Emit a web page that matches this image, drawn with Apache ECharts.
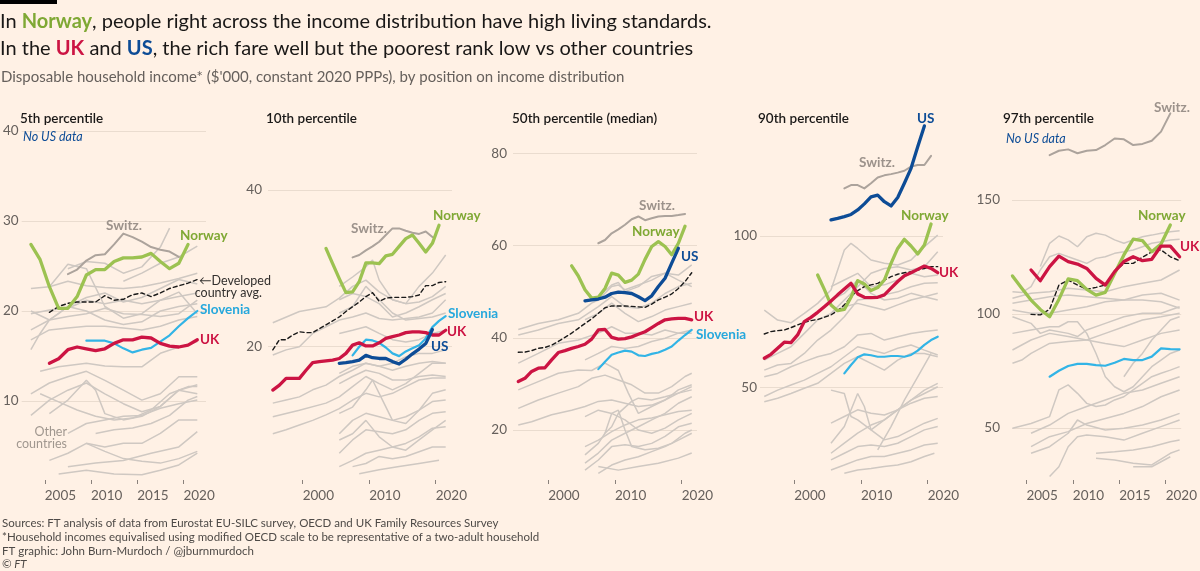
<!DOCTYPE html>
<html><head><meta charset="utf-8">
<script src="https://cdn.jsdelivr.net/npm/echarts@6/dist/echarts.min.js"></script>
<style>html,body{margin:0;padding:0;background:#fff1e5}#c{width:1200px;height:571px}</style>
</head><body><div id="c"></div>
<script>
// ================= DATA =================
// x values are years; annual series start at the given year
// ---- 5th percentile ----
const p05XTicks = [2005, 2010, 2015, 2020];
const p05YTicks = [10, 20, 30, 40];
const p05NorwayStart = 2003.5;
const p05Norway = [27.4,25.7,22.7,20.3,20.3,21.6,24.0,24.6,24.6,25.5,25.9,25.9,26.0,26.4,25.5,24.7,25.3,27.4];
const p05UKStart = 2005.5;
const p05UK = [14.2,14.7,15.7,16.0,15.8,15.6,15.8,16.4,16.8,16.8,17.1,17.0,16.4,16.1,16.0,16.2,16.8];
const p05SloveniaStart = 2009.5;
const p05Slovenia = [16.7,16.7,16.7,16.4,15.85,15.4,15.7,15.9,16.6,17.3,18.3,19.2,20.0];
const p05SwitzStart = 2007.5;
const p05Switz = [24.1,24.6,25.6,26.2,26.3,27.4,28.6,28.2,27.7,27.1,26.8,26.6,26.0];
const p05AvgStart = 2005.5;
const p05Avg = [19.85,20.5,20.85,21.0,21.0,21.0,21.7,21.2,21.3,21.8,22.0,21.6,22.0,22.5,22.8,23.1,23.5];
const p05Others = [
 [[2003.5,22.5],[2005.5,22.7],[2007.5,23.3],[2009.5,22.8],[2011.5,22.6],[2013.5,22.5],[2015.5,22.7],[2017.5,23.1],[2019.5,23.6],[2021.5,24.2]],
 [[2003.5,20.0],[2005.5,19.0],[2007.5,20.5],[2009.5,21.5],[2011.5,22.0],[2013.5,21.0],[2015.5,21.5],[2017.5,22.5],[2019.5,23.5],[2021.5,23.0]],
 [[2005.5,22.7],[2007.5,25.2],[2009.5,24.7],[2011.5,20.5],[2013.5,19.2],[2015.5,19.7],[2017.5,21.2],[2019.5,22.1],[2021.5,19.7]],
 [[2007.5,24.7],[2009.5,25.5],[2011.5,25.3],[2013.5,24.2],[2015.5,24.9],[2017.5,27.1],[2018.5,29.2]],
 [[2003.5,19.7],[2005.5,20.1],[2007.5,20.3],[2009.5,21.2],[2011.5,20.8],[2013.5,21.2],[2015.5,20.8],[2017.5,21.2],[2019.5,21.6],[2021.5,22.0]],
 [[2003.5,17.9],[2005.5,19.0],[2007.5,19.4],[2009.5,19.7],[2011.5,20.3],[2013.5,19.7],[2015.5,19.6],[2017.5,19.4],[2019.5,19.7],[2021.5,21.2]],
 [[2003.5,16.8],[2005.5,17.9],[2007.5,18.1],[2009.5,18.3],[2011.5,18.3],[2013.5,18.1],[2015.5,17.9],[2017.5,18.3],[2019.5,19.0],[2021.5,19.4]],
 [[2003.5,15.7],[2004.5,17.5],[2005.5,19.0],[2006.5,19.7],[2007.5,20.5],[2009.5,20.0],[2011.5,19.0],[2013.5,18.5],[2015.5,18.8],[2017.5,20.0],[2019.5,20.5],[2021.5,20.8]],
 [[2004.5,13.3],[2006.5,13.8],[2009.5,14.2],[2011.5,13.9],[2013.5,13.8],[2015.5,13.8],[2017.5,15.3],[2019.5,16.0],[2021.5,16.6]],
 [[2003.5,10.8],[2005.5,12.0],[2007.5,12.7],[2009.5,13.3],[2011.5,12.3],[2013.5,11.2],[2015.5,10.1],[2017.5,10.8],[2019.5,12.7],[2021.5,12.7]],
 [[2003.5,8.4],[2005.5,10.1],[2007.5,11.2],[2009.5,12.0],[2011.5,10.8],[2013.5,9.7],[2015.5,8.8],[2017.5,9.4],[2019.5,11.2],[2021.5,11.8]],
 [[2004.5,10.8],[2006.5,9.9],[2008.5,9.0],[2010.5,8.3],[2012.5,7.9],[2014.5,8.1],[2016.5,9.0],[2018.5,10.8],[2020.5,11.6],[2021.5,11.6]],
 [[2005.5,8.6],[2007.5,10.1],[2009.5,12.3],[2010.5,11.2],[2011.5,8.6],[2013.5,7.9],[2015.5,8.3],[2017.5,9.4],[2019.5,11.2],[2021.5,10.8]],
 [[2007.5,6.4],[2009.5,7.5],[2011.5,7.9],[2013.5,8.3],[2015.5,8.4],[2017.5,9.2],[2019.5,9.7],[2021.5,10.1]],
 [[2005.5,3.4],[2007.5,4.2],[2009.5,5.3],[2011.5,4.9],[2013.5,5.3],[2015.5,5.3],[2017.5,6.4],[2019.5,7.9],[2021.5,7.9]],
 [[2007.5,2.7],[2010.5,3.1],[2013.5,3.4],[2016.5,4.2],[2019.5,4.9],[2021.5,6.6]],
 [[2009.5,5.3],[2011.5,4.4],[2013.5,3.6],[2015.5,3.3],[2017.5,3.1],[2019.5,3.6],[2021.5,4.4]],
 [[2006.5,1.9],[2009.5,2.3],[2012.5,1.9],[2015.5,1.8],[2017.5,2.3],[2019.5,2.9],[2021.5,4.2]],
 [[2010.5,6.4],[2012.5,6.8],[2014.5,7.0],[2016.5,7.5],[2018.5,8.4],[2020.5,10.1],[2021.5,10.5]],
 [[2013.5,23.3],[2015.5,24.2],[2017.5,25.3],[2019.5,26.0],[2021.5,27.2]]
];
// ---- 10th percentile ----
const p10XTicks = [2000, 2010, 2020];
const p10YTicks = [20, 40];
const p10UKStart = 1995.5;
const p10UK = [14.47,15.1,15.96,15.96,15.96,17.0,17.96,18.09,18.2,18.3,18.5,19.15,20.2,20.5,20.1,20.1,20.5,21.06,21.28,21.5,21.8,21.9,21.9,21.8,21.5,21.5,22.1];
const p10NorwayStart = 2003.5;
const p10Norway = [32.55,30.6,28.7,26.9,27.0,28.3,30.7,30.7,30.6,31.6,31.8,32.8,33.8,34.25,33.2,32.1,33.2,35.5];
const p10SwitzStart = 2007.5;
const p10Switz = [31.4,31.7,32.3,32.8,33.4,34.25,35.1,35.1,34.8,34.55,34.4,34.7,34.0];
const p10AvgStart = 1995.5;
const p10Avg = [19.6,20.9,20.9,21.5,21.9,21.8,21.8,22.3,22.8,23.3,23.8,24.5,25.1,25.7,26.4,26.9,25.8,26.2,26.3,26.3,26.3,26.4,26.6,27.8,27.8,28.2,28.3];
const p10USStart = 2005.5;
const p10US = [17.87,17.96,18.1,18.3,18.9,18.6,18.5,18.5,18.1,17.8,18.4,19.1,19.7,20.4,22.2];
const p10SloveniaStart = 2007.5;
const p10Slovenia = [18.9,20.0,20.9,20.8,20.5,19.9,19.15,18.8,19.4,19.8,20.2,21.06,22.5,23.3,23.9];
const p10Others = [
 [[1995.5,23.06],[1999.5,24.5],[2003.5,25.1],[2005.5,26.2],[2007.5,27.7],[2009.5,28.5],[2011.5,27.0],[2013.5,26.0],[2015.5,25.5],[2017.5,25.7],[2019.5,26.4],[2021.5,27.7]],
 [[1995.5,18.94],[1997.5,19.6],[1999.5,20.0],[2001.5,21.7],[2003.5,22.55],[2005.5,23.4],[2007.5,23.8],[2009.5,24.3],[2011.5,23.6],[2013.5,23.4],[2015.5,23.6],[2017.5,23.8],[2019.5,24.3],[2021.5,26.0]],
 [[1995.5,12.8],[1997.5,13.2],[1999.5,13.6],[2001.5,14.5],[2003.5,15.1],[2005.5,16.2],[2007.5,17.0],[2009.5,17.9],[2011.5,17.5],[2013.5,17.9],[2015.5,18.7],[2017.5,19.15],[2019.5,19.15],[2021.5,19.6]],
 [[1995.5,8.9],[1997.5,9.4],[1999.5,10.0],[2001.5,10.6],[2003.5,11.3],[2005.5,12.1],[2007.5,13.2],[2009.5,14.05],[2011.5,13.6],[2013.5,14.05],[2015.5,14.9],[2017.5,15.75],[2019.5,16.0],[2021.5,16.0]],
 [[1995.5,11.06],[1999.5,11.9],[2003.5,12.8],[2005.5,13.6],[2007.5,14.9],[2009.5,16.2],[2011.5,15.3],[2013.5,14.5],[2015.5,15.3],[2017.5,16.6],[2019.5,17.9],[2021.5,17.9]],
 [[2005.5,27.7],[2007.5,28.9],[2009.5,30.2],[2010.5,31.06],[2011.5,28.5],[2013.5,26.0],[2015.5,25.5],[2017.5,27.7],[2019.5,29.4],[2021.5,31.7]],
 [[2005.5,26.0],[2007.5,26.8],[2009.5,26.4],[2011.5,25.5],[2013.5,23.8],[2015.5,24.3],[2017.5,25.1],[2019.5,26.0],[2021.5,26.8]],
 [[2005.5,24.3],[2007.5,25.1],[2009.5,27.7],[2011.5,26.0],[2013.5,24.3],[2015.5,23.4],[2017.5,23.6],[2019.5,23.8],[2021.5,24.3]],
 [[2005.5,21.7],[2007.5,22.1],[2009.5,22.55],[2011.5,21.7],[2013.5,20.9],[2015.5,20.6],[2017.5,20.9],[2019.5,21.7],[2021.5,22.1]],
 [[2005.5,16.6],[2007.5,17.5],[2009.5,17.9],[2011.5,17.5],[2013.5,17.0],[2015.5,17.5],[2017.5,17.9],[2019.5,18.1],[2021.5,17.9]],
 [[2005.5,15.3],[2007.5,16.2],[2009.5,17.0],[2011.5,16.6],[2013.5,15.75],[2015.5,15.75],[2017.5,16.2],[2019.5,16.4],[2021.5,16.2]],
 [[2005.5,11.5],[2007.5,12.3],[2009.5,14.5],[2010.5,15.75],[2011.5,14.05],[2013.5,10.6],[2015.5,10.2],[2017.5,11.9],[2019.5,14.05],[2021.5,14.5]],
 [[2005.5,8.9],[2007.5,10.6],[2009.5,11.5],[2011.5,11.06],[2013.5,10.6],[2015.5,11.06],[2017.5,11.9],[2019.5,13.0],[2021.5,13.2]],
 [[2005.5,6.4],[2007.5,8.1],[2009.5,9.4],[2011.5,9.15],[2013.5,8.9],[2015.5,9.4],[2017.5,10.6],[2019.5,11.5],[2021.5,11.7]],
 [[2005.5,4.7],[2007.5,5.5],[2009.5,6.4],[2011.5,6.8],[2013.5,7.2],[2015.5,7.66],[2017.5,8.5],[2019.5,9.6],[2021.5,9.8]],
 [[2007.5,4.7],[2009.5,5.1],[2011.5,6.0],[2013.5,5.7],[2015.5,6.0],[2017.5,6.6],[2019.5,7.2],[2021.5,7.2]],
 [[2008.5,3.8],[2011.5,4.3],[2014.5,4.7],[2017.5,5.1],[2020.5,5.5]],
 [[2005.5,8.1],[2007.5,8.9],[2009.5,10.6],[2011.5,8.5],[2013.5,7.2],[2015.5,6.8],[2017.5,8.1],[2019.5,9.4],[2021.5,10.6]]
];
// ---- 50th percentile ----
const p50XTicks = [2000, 2010, 2020];
const p50YTicks = [20, 40, 60, 80];
const p50UKStart = 1995.5;
const p50UK = [30.5,31.2,32.7,33.4,33.5,35.2,36.8,37.2,37.7,38.1,38.6,39.7,41.7,41.8,40.1,39.7,39.8,40.2,40.75,41.3,42.2,43.1,43.9,44.1,44.2,44.2,43.9];
const p50AvgStart = 1995.5;
const p50Avg = [36.85,36.9,37.2,37.7,37.9,38.4,39.2,40.1,41.0,42.05,43.1,44.1,45.3,46.5,46.9,46.9,46.9,46.8,46.7,46.6,47.3,48.2,48.8,49.5,50.7,52.2,54.1];
const p50NorwayStart = 2003.5;
const p50Norway = [55.6,53.4,50.4,48.6,48.8,50.7,54.0,53.6,52.0,52.5,53.8,57.0,59.8,60.85,59.8,58.0,60.5,64.2];
const p50USStart = 2005.5;
const p50US = [48.0,48.2,48.4,48.8,49.6,49.9,49.8,49.6,48.9,48.05,49.1,51.1,52.9,56.2,59.4];
const p50SloveniaStart = 2007.5;
const p50Slovenia = [33.2,34.8,36.3,36.8,37.2,37.0,36.2,36.05,36.5,36.8,37.4,38.1,39.4,40.6,41.7];
const p50SwitzStart = 2007.5;
const p50Switz = [60.5,61.2,62.65,63.5,64.5,65.7,66.3,65.5,65.9,66.3,66.4,66.4,66.6,66.85];
const p50Others = [
 [[1995.5,41.8],[1998.5,43.1],[2001.5,43.9],[2004.5,45.3],[2006.5,47.5],[2007.5,48.2],[2009.5,51.1],[2010.5,51.45],[2011.5,50.4],[2013.5,51.45],[2015.5,52.5],[2017.5,54.0],[2019.5,53.6],[2021.5,55.8]],
 [[1995.5,40.6],[1998.5,41.7],[2001.5,43.1],[2004.5,43.9],[2007.5,46.75],[2009.5,48.9],[2011.5,46.75],[2013.5,46.4],[2015.5,47.5],[2017.5,49.6],[2019.5,51.1],[2021.5,51.8]],
 [[1995.5,34.5],[1998.5,36.6],[2001.5,38.8],[2004.5,39.5],[2007.5,41.0],[2009.5,42.4],[2011.5,41.0],[2013.5,41.0],[2015.5,40.6],[2017.5,41.7],[2019.5,41.0],[2021.5,41.0]],
 [[1995.5,28.7],[1998.5,30.5],[2001.5,32.3],[2004.5,33.0],[2006.5,32.9],[2008.5,34.5],[2010.5,32.9],[2012.0,28.0],[2013.5,23.6],[2015.5,25.1],[2017.5,26.5],[2019.5,28.7],[2021.5,29.8]],
 [[1995.5,24.7],[1998.5,26.5],[2001.5,28.0],[2004.5,29.4],[2006.5,31.2],[2008.5,31.9],[2010.5,30.85],[2012.5,29.8],[2014.5,28.0],[2016.5,28.0],[2018.5,29.4],[2020.5,31.6],[2021.5,32.3]],
 [[1995.5,21.1],[1997.5,21.8],[2000.5,23.3],[2003.5,24.3],[2005.5,25.1],[2007.5,26.2],[2009.5,26.5],[2011.5,25.8],[2013.5,25.1],[2015.5,25.4],[2017.5,26.5],[2019.5,28.0],[2021.5,29.4]],
 [[2005.5,14.6],[2007.5,17.1],[2008.5,19.3],[2009.5,20.7],[2010.5,23.6],[2012.5,26.2],[2013.5,26.9],[2015.5,26.5],[2017.5,27.2],[2019.5,28.0],[2021.5,28.7]],
 [[2005.5,12.8],[2007.5,15.0],[2009.5,17.8],[2011.5,19.3],[2013.5,20.7],[2015.5,22.2],[2017.5,23.6],[2019.5,25.8],[2021.5,27.2]],
 [[2005.5,11.3],[2007.5,13.5],[2009.5,16.4],[2011.5,16.8],[2013.5,16.4],[2015.5,17.1],[2017.5,18.6],[2019.5,20.7],[2021.5,21.45]],
 [[2007.5,10.6],[2009.5,12.4],[2011.5,13.5],[2013.5,14.2],[2015.5,15.3],[2017.5,16.4],[2019.5,17.8],[2021.5,19.3]],
 [[2008.5,19.3],[2009.5,23.6],[2010.5,24.3],[2011.5,20.0],[2012.5,16.4],[2014.5,15.7],[2016.5,16.05],[2018.5,17.1],[2020.5,19.3],[2021.5,20.0]],
 [[2005.5,16.4],[2007.5,17.8],[2009.5,19.65],[2011.5,21.1],[2013.5,22.2],[2015.5,22.6],[2017.5,23.3],[2019.5,24.0],[2021.5,24.3]],
 [[2007.5,12.1],[2010.5,11.3],[2013.5,12.1],[2016.5,12.8],[2019.5,13.9],[2021.5,15.0]],
 [[2005.5,22.9],[2007.5,24.3],[2009.5,23.6],[2011.5,22.2],[2013.5,20.0],[2015.5,19.3],[2017.5,20.4],[2019.5,22.2],[2021.5,23.6]],
 [[2005.5,47.8],[2007.5,48.9],[2009.5,51.45],[2010.5,52.0],[2011.5,50.0],[2013.5,51.1],[2015.5,53.3],[2017.5,54.0],[2019.5,52.5],[2021.5,51.1]],
 [[2005.5,43.9],[2007.5,45.3],[2009.5,47.5],[2011.5,45.3],[2013.5,43.5],[2015.5,44.6],[2017.5,46.0],[2019.5,46.75],[2021.5,47.5]],
 [[2005.5,35.2],[2007.5,36.6],[2009.5,38.1],[2011.5,37.7],[2013.5,38.1],[2015.5,39.2],[2017.5,39.9],[2019.5,41.0],[2021.5,41.7]]
];
// ---- 90th percentile ----
const p90XTicks = [2000, 2010, 2020];
const p90YTicks = [50, 100];
const p90UKStart = 1995.5;
const p90UK = [59.7,61.0,63.0,65.0,64.85,67.4,71.8,73.2,74.85,76.7,78.6,80.6,82.5,84.4,80.9,79.8,79.7,79.8,80.6,82.8,85.0,86.9,87.9,89.0,90.1,89.3,87.9];
const p90AvgStart = 1995.5;
const p90Avg = [67.7,68.5,68.8,69.0,69.8,70.7,71.55,72.1,72.5,73.2,74.0,75.4,77.3,80.0,82.0,83.3,83.9,84.4,85.5,86.6,87.4,87.9,88.2,88.8,89.3,89.9,89.9];
const p90NorwayStart = 2003.5;
const p90Norway = [87.15,82.4,77.3,75.4,75.8,79.8,85.3,84.2,82.0,83.0,85.5,91.0,95.9,98.9,96.7,94.1,97.0,103.96];
const p90USStart = 2005.5;
const p90US = [105.3,105.8,106.4,107.1,108.6,110.6,112.9,113.5,111.3,109.9,112.7,117.4,122.3,129.4,136.3];
const p90SwitzStart = 2007.5;
const p90Switz = [115.7,116.8,116.8,115.7,117.4,119.3,120.0,120.4,120.9,121.5,122.9,123.4,123.4,126.4];
const p90SloveniaStart = 2007.5;
const p90Slovenia = [54.7,57.5,60.0,61.0,60.7,60.2,60.2,60.45,60.45,60.2,60.8,62.2,64.1,65.7,66.8];
const p90Others = [
 [[1995.5,75.6],[1997.5,72.3],[1999.5,71.4],[2001.5,74.5],[2003.5,77.8],[2005.5,82.2],[2007.5,95.4],[2008.5,97.6],[2009.5,95.9],[2011.5,92.1],[2013.5,91.0],[2015.5,90.45],[2017.5,92.1],[2019.5,96.5],[2021.5,100.3]],
 [[1995.5,59.1],[1997.5,61.3],[1999.5,63.5],[2001.5,67.9],[2003.5,72.3],[2005.5,74.5],[2007.5,78.9],[2009.5,83.3],[2011.5,87.7],[2013.5,89.3],[2015.5,89.9],[2017.5,88.8],[2019.5,89.9],[2021.5,94.8]],
 [[1995.5,55.8],[1997.5,57.5],[1999.5,58.0],[2001.5,61.3],[2003.5,65.7],[2005.5,69.0],[2007.5,73.4],[2009.5,78.9],[2011.5,79.5],[2013.5,80.6],[2015.5,81.6],[2017.5,83.3],[2019.5,84.4],[2021.5,84.6]],
 [[1995.5,53.6],[1997.5,54.7],[1999.5,56.9],[2001.5,58.6],[2003.5,60.2],[2005.5,61.3],[2007.5,63.5],[2009.5,67.4],[2011.5,67.9],[2013.5,65.7],[2015.5,66.8],[2017.5,67.9],[2019.5,68.5],[2021.5,69.0]],
 [[1995.5,47.1],[1997.5,49.2],[1999.5,50.9],[2001.5,52.5],[2003.5,54.7],[2005.5,56.9],[2007.5,60.2],[2009.5,63.5],[2011.5,62.4],[2013.5,61.3],[2015.5,63.0],[2017.5,64.1],[2019.5,62.4],[2021.5,60.8]],
 [[1995.5,45.4],[1997.5,46.5],[1999.5,48.1],[2001.5,49.8],[2003.5,51.45],[2005.5,54.7],[2007.5,58.0],[2009.5,60.2],[2011.5,58.0],[2013.5,55.8],[2015.5,59.1],[2017.5,61.3],[2019.5,61.3],[2021.5,60.2]],
 [[2005.5,83.3],[2007.5,85.5],[2009.5,87.7],[2011.5,83.3],[2013.5,83.9],[2015.5,85.5],[2017.5,87.7],[2019.5,86.6],[2021.5,87.15]],
 [[2005.5,78.9],[2007.5,81.1],[2009.5,85.5],[2011.5,81.1],[2013.5,78.9],[2015.5,79.5],[2017.5,81.1],[2019.5,80.0],[2021.5,78.9]],
 [[2005.5,74.5],[2007.5,76.7],[2009.5,77.8],[2011.5,76.7],[2013.5,75.6],[2015.5,77.3],[2017.5,78.9],[2019.5,80.0],[2021.5,81.1]],
 [[2005.5,49.2],[2007.5,48.1],[2008.5,40.5],[2009.5,39.4],[2011.5,36.1],[2013.5,39.4],[2015.5,42.7],[2017.5,45.9],[2019.5,49.2],[2021.5,51.45]],
 [[2005.5,31.7],[2007.5,37.2],[2009.5,48.1],[2010.5,43.8],[2011.5,36.1],[2013.5,32.8],[2015.5,33.9],[2017.5,36.1],[2019.5,38.3],[2021.5,39.9]],
 [[2005.5,28.4],[2007.5,31.7],[2009.5,35.0],[2011.5,37.7],[2013.5,39.4],[2015.5,42.7],[2017.5,45.9],[2019.5,48.1],[2021.5,50.3]],
 [[2005.5,26.2],[2007.5,28.4],[2009.5,30.6],[2011.5,31.1],[2013.5,30.6],[2015.5,31.7],[2017.5,33.9],[2019.5,36.1],[2021.5,37.2]],
 [[2005.5,22.9],[2007.5,24.5],[2009.5,26.2],[2011.5,27.3],[2013.5,27.3],[2015.5,28.4],[2017.5,29.5],[2019.5,31.1],[2021.5,31.7]],
 [[2007.5,21.8],[2009.5,22.9],[2011.5,23.4],[2013.5,24.0],[2015.5,24.5],[2017.5,25.6],[2019.5,27.3],[2021.0,28.4]],
 [[2005.5,38.3],[2007.5,40.5],[2009.5,42.7],[2011.5,41.6],[2013.5,41.0],[2015.5,42.7],[2017.5,44.9],[2019.5,46.5],[2021.5,47.1]],
 [[2012.5,29.5],[2014.5,37.2],[2016.5,45.9],[2018.5,53.6],[2020.5,61.3]]
];
// ---- 97th percentile ----
const p97XTicks = [2005, 2010, 2015, 2020];
const p97YTicks = [50, 100, 150];
const p97NorwayStart = 2003.5;
const p97Norway = [116.7,111.3,106.1,102.0,98.8,106.4,115.4,114.6,110.8,108.3,109.5,117.8,125.9,132.8,132.2,127.3,130.7,139.0];
const p97UKStart = 2005.5;
const p97UK = [119.3,114.6,120.8,125.4,123.0,121.9,120.0,115.6,112.7,118.6,123.0,125.1,123.4,124.0,129.8,129.8,125.1];
const p97AvgStart = 2005.5;
const p97Avg = [99.85,99.6,102.05,112.7,114.9,112.7,110.8,111.7,112.7,118.6,122.2,122.2,124.9,127.3,128.1,125.1,123.4];
const p97SwitzStart = 2007.5;
const p97Switz = [169.7,171.6,172.2,170.5,171.6,171.9,174.1,177.0,176.6,174.1,174.6,176.0,180.0,188.0];
const p97SloveniaStart = 2007.5;
const p97Slovenia = [72.5,75.1,77.2,78.1,78.1,77.6,77.3,78.6,80.3,79.8,79.8,81.3,84.9,84.6,84.5];
const p97Others = [
 [[2006.5,120.8],[2007.5,131.0],[2008.5,134.2],[2009.5,132.5],[2010.5,129.5],[2011.5,133.9],[2012.5,135.4],[2013.5,134.6],[2014.5,132.5],[2015.5,131.0],[2016.5,132.5],[2017.5,133.9],[2018.5,134.6],[2019.5,135.4],[2020.5,136.1],[2021.5,136.5]],
 [[2003.5,109.8],[2004.5,109.4],[2005.5,112.0],[2006.5,119.3],[2007.5,125.1],[2008.5,126.6],[2009.5,125.1],[2010.5,123.7],[2011.5,122.2],[2012.5,124.4],[2013.5,125.1],[2014.5,126.6],[2015.5,127.3],[2016.5,128.1],[2017.5,129.5],[2018.5,131.0],[2019.5,131.7],[2020.5,132.5],[2021.5,132.8]],
 [[2003.5,106.9],[2005.5,109.1],[2007.5,109.8],[2009.5,111.3],[2011.5,110.5],[2013.5,109.8],[2015.5,112.0],[2017.5,113.5],[2019.5,114.9],[2021.5,119.3]],
 [[2003.5,104.7],[2005.5,106.1],[2007.5,107.6],[2009.5,108.3],[2011.5,107.6],[2013.5,106.9],[2015.5,106.1],[2017.5,108.3],[2019.5,109.1],[2021.5,106.1]],
 [[2003.5,101.8],[2005.5,100.3],[2007.5,100.3],[2009.5,101.8],[2011.5,103.2],[2013.5,105.4],[2015.5,106.1],[2017.5,106.1],[2019.5,105.4],[2021.5,102.5]],
 [[2003.5,98.8],[2005.5,95.9],[2006.5,91.5],[2007.5,93.0],[2009.5,91.5],[2010.5,90.1],[2011.5,93.0],[2013.5,95.9],[2015.5,98.8],[2017.5,100.3],[2019.5,100.3],[2021.5,103.2]],
 [[2003.5,91.5],[2005.5,93.0],[2007.5,94.4],[2008.5,94.4],[2009.5,96.6],[2010.5,96.6],[2011.5,91.5],[2012.5,82.7],[2013.5,72.5],[2014.5,68.1],[2015.5,65.9],[2016.5,68.1],[2017.5,72.5],[2018.5,76.9],[2019.5,79.8],[2020.5,82.7],[2021.5,84.2]],
 [[2003.5,84.2],[2005.5,88.6],[2007.5,91.5],[2009.5,90.1],[2011.5,88.6],[2013.5,87.1],[2015.5,85.7],[2017.5,88.6],[2019.5,91.5],[2021.5,93.0]],
 [[2003.5,78.4],[2004.5,79.8],[2005.5,82.7],[2007.5,87.1],[2009.5,87.9],[2011.5,88.6],[2013.5,91.5],[2015.5,94.4],[2017.5,97.4],[2019.5,98.8],[2021.5,100.3]],
 [[2003.5,49.9],[2005.5,52.0],[2007.5,55.0],[2008.5,66.7],[2009.5,68.9],[2010.5,65.2],[2011.5,60.8],[2012.5,59.4],[2013.5,60.1],[2014.5,62.3],[2015.5,63.7],[2016.5,66.7],[2017.5,69.6],[2018.5,72.5],[2019.5,74.0],[2020.5,75.4],[2021.5,76.9]],
 [[2005.5,47.7],[2007.5,51.3],[2009.5,56.4],[2011.5,59.4],[2013.5,62.3],[2015.5,65.2],[2017.5,66.7],[2019.5,69.6],[2021.5,72.5]],
 [[2005.5,41.8],[2007.5,46.2],[2009.5,48.4],[2011.5,52.0],[2013.5,54.2],[2015.5,56.4],[2017.5,59.4],[2019.5,63.7],[2021.5,66.7]],
 [[2005.5,38.9],[2007.5,41.8],[2009.5,47.7],[2010.5,53.5],[2011.5,51.3],[2013.5,49.1],[2015.5,49.9],[2017.5,51.3],[2019.5,53.5],[2021.5,56.4]],
 [[2007.5,28.7],[2008.5,33.0],[2009.5,41.8],[2010.5,46.2],[2011.5,46.9],[2013.5,46.2],[2015.5,44.7],[2017.5,47.7],[2019.5,50.6],[2021.5,53.5]],
 [[2012.5,38.9],[2014.5,39.6],[2016.5,40.4],[2018.5,41.8],[2020.5,44.0],[2021.5,44.7]],
 [[2012.5,36.7],[2014.5,36.0],[2016.5,34.5],[2018.5,33.8],[2020.5,38.9],[2021.5,40.4]],
 [[2016.5,33.0],[2018.5,33.0],[2020.5,37.4]],
 [[2015.5,72.5],[2016.5,78.4],[2017.5,82.7],[2018.5,88.6],[2019.5,93.0],[2020.5,97.4],[2021.5,98.8]]
];

// ================= LAYOUT & STYLE =================
const FONT = 'Lato, "Open Sans", sans-serif';
const C = {
  norway: '#9cc251', norwayText: '#7fa834',
  uk: '#cc1443', us: '#0d4c96',
  slovenia: '#32b4e6', sloveniaText: '#27a8dc',
  switz: '#aca39c', switzText: '#9c928b',
  avg: '#1a1a1a', other: '#cfc8c2', axis: '#66605c', grid: '#eadccf'
};
const TOP = 100, BOTTOM_Y = 484;
const panels = [
  {left: 20,   width: 186, xMin: 2002.5,  xMax: 2022.44, yMin: 0.78,  yMax: 43.44,  yTicks: p05YTicks, xTicks: p05XTicks, lm: 3,
   others: p05Others,
   lines: [['switz', p05SwitzStart, p05Switz], ['slovenia', p05SloveniaStart, p05Slovenia], ['avg', p05AvgStart, p05Avg], ['norway', p05NorwayStart, p05Norway], ['uk', p05UKStart, p05UK]]},
  {left: 268,  width: 184, xMin: 1994.78, xMax: 2022.45, yMin: 2.48,  yMax: 51.49,  yTicks: p10YTicks, xTicks: p10XTicks, lm: 6,
   others: p10Others,
   lines: [['switz', p10SwitzStart, p10Switz], ['slovenia', p10SloveniaStart, p10Slovenia], ['avg', p10AvgStart, p10Avg], ['norway', p10NorwayStart, p10Norway], ['uk', p10UKStart, p10UK], ['us', p10USStart, p10US]]},
  {left: 513,  width: 184, xMin: 1994.71, xMax: 2022.29, yMin: 8.29,  yMax: 91.56,  yTicks: p50YTicks, xTicks: p50XTicks, lm: 6,
   others: p50Others,
   lines: [['switz', p50SwitzStart, p50Switz], ['slovenia', p50SloveniaStart, p50Slovenia], ['avg', p50AvgStart, p50Avg], ['norway', p50NorwayStart, p50Norway], ['uk', p50UKStart, p50UK], ['us', p50USStart, p50US]]},
  {left: 760,  width: 183, xMin: 1994.86, xMax: 2022.29, yMin: 18.26, yMax: 144.83, yTicks: p90YTicks, xTicks: p90XTicks, lm: 3,
   others: p90Others,
   lines: [['switz', p90SwitzStart, p90Switz], ['slovenia', p90SloveniaStart, p90Slovenia], ['avg', p90AvgStart, p90Avg], ['norway', p90NorwayStart, p90Norway], ['uk', p90UKStart, p90UK], ['us', p90USStart, p90US]]},
  {left: 1012, width: 170, xMin: 2003.45, xMax: 2021.67, yMin: 25.44, yMax: 193.86, yTicks: p97YTicks, xTicks: p97XTicks, lm: 12,
   others: p97Others,
   lines: [['switz', p97SwitzStart, p97Switz], ['slovenia', p97SloveniaStart, p97Slovenia], ['avg', p97AvgStart, p97Avg], ['norway', p97NorwayStart, p97Norway], ['uk', p97UKStart, p97UK]]}
];
const lineStyles = {
  switz:    {color: C.switz, width: 2, z: 3},
  slovenia: {color: C.slovenia, width: 2.2, z: 4},
  avg:      {color: C.avg, width: 1.4, type: [4, 3], z: 5},
  norway:   {color: C.norway, width: 3.3, z: 6},
  uk:       {color: C.uk, width: 3.3, z: 7},
  us:       {color: C.us, width: 3.3, z: 8}
};

const grid = [], xAxis = [], yAxis = [], series = [];
panels.forEach((p, i) => {
  grid.push({left: p.left, width: p.width, top: TOP, height: BOTTOM_Y - TOP, containLabel: false});
  xAxis.push({
    type: 'value', gridIndex: i, min: p.xMin, max: p.xMax,
    axisLine: {show: false},
    axisTick: {show: true, inside: true, length: 4, customValues: p.xTicks, lineStyle: {color: '#8a817b', width: 1}},
    axisLabel: {show: true, customValues: p.xTicks, align: 'left', margin: 5, fontSize: 13.5, color: C.axis, fontFamily: FONT,
                formatter: v => String(Math.round(v))},
    splitLine: {show: false}
  });
  yAxis.push({
    type: 'value', gridIndex: i, min: p.yMin, max: p.yMax,
    axisLine: {show: false},
    axisTick: {show: false, customValues: p.yTicks},
    axisLabel: {show: true, customValues: p.yTicks, margin: p.lm, fontSize: 13.5, color: C.axis, fontFamily: FONT,
                formatter: v => String(Math.round(v))},
    splitLine: {show: true, lineStyle: {color: C.grid, width: 1}}
  });
  p.others.forEach(o => series.push({
    type: 'line', xAxisIndex: i, yAxisIndex: i, data: o, symbol: 'none', silent: true, z: 2,
    lineStyle: {color: C.other, width: 1.5}
  }));
  p.lines.forEach(([k, start, vals]) => {
    const s = lineStyles[k];
    series.push({
      type: 'line', xAxisIndex: i, yAxisIndex: i, symbol: 'none', silent: true, z: s.z,
      data: vals.map((v, j) => [start + j, v]),
      lineStyle: {color: s.color, width: s.width, type: s.type || 'solid', cap: 'round', join: 'round'}
    });
  });
});

function txt(x, y, text, opt) {
  opt = opt || {};
  const size = opt.size || 13.5;
  return {type: 'text', z: 100, silent: true, style: {
    x: x, y: y, text: text, fill: opt.color || '#1a1817',
    font: (opt.italic ? 'italic ' : '') + (opt.weight || 'normal') + ' ' + size + 'px ' + FONT,
    align: opt.align || 'left', textAlign: opt.align || 'left',
    verticalAlign: 'middle', textVerticalAlign: 'middle'
  }};
}
const B = 'bold';
const graphic = [
  {type: 'rect', shape: {x: 0, y: 0, width: 57, height: 4}, style: {fill: '#000'}, silent: true},
  {type: 'text', z: 100, silent: true, style: {x: 0, y: 22, text: 'In {g|Norway}, people right across the income distribution have high living standards.',
    font: 'normal 20px ' + FONT, fill: '#1a1817', verticalAlign: 'middle', textVerticalAlign: 'middle',
    rich: {g: {fill: C.norwayText, color: C.norwayText, fontWeight: 'bold', fontSize: 20, fontFamily: FONT}}}},
  {type: 'text', z: 100, silent: true, style: {x: 0, y: 49, text: 'In the {r|UK} and {b|US}, the rich fare well but the poorest rank low vs other countries',
    font: 'normal 20px ' + FONT, fill: '#1a1817', verticalAlign: 'middle', textVerticalAlign: 'middle',
    rich: {r: {fill: C.uk, color: C.uk, fontWeight: 'bold', fontSize: 20, fontFamily: FONT},
           b: {fill: C.us, color: C.us, fontWeight: 'bold', fontSize: 20, fontFamily: FONT}}}},
  txt(1, 77, "Disposable household income* ($'000, constant 2020 PPPs), by position on income distribution", {size: 15, color: '#66605c'}),
  // panel titles
  txt(20, 119, '5th percentile', {weight: 600}),
  txt(266, 119, '10th percentile', {weight: 600}),
  txt(512, 119, '50th percentile (median)', {weight: 600}),
  txt(758, 119, '90th percentile', {weight: 600}),
  txt(1003, 119, '97th percentile', {weight: 600}),
  txt(23, 137, 'No US data', {italic: true, size: 12.5, color: C.us}),
  txt(1006, 139, 'No US data', {italic: true, size: 12.5, color: C.us}),
  // panel 1 labels
  txt(106, 226, 'Switz.', {weight: B, color: C.switzText}),
  txt(180, 236, 'Norway', {weight: B, color: C.norwayText}),
  txt(199, 281, '\u2190Developed', {size: 12.5, color: '#33302e'}),
  txt(262, 293, 'country avg.', {size: 12.5, color: '#33302e', align: 'right'}),
  txt(200, 310, 'Slovenia', {weight: B, color: C.sloveniaText}),
  txt(200, 340, 'UK', {weight: B, color: C.uk}),
  txt(67, 432, 'Other', {size: 12.5, color: '#a0978f', align: 'right'}),
  txt(67, 444, 'countries', {size: 12.5, color: '#a0978f', align: 'right'}),
  // panel 2
  txt(433, 216, 'Norway', {weight: B, color: C.norwayText}),
  txt(351, 229, 'Switz.', {weight: B, color: C.switzText}),
  txt(448, 314, 'Slovenia', {weight: B, color: C.sloveniaText}),
  txt(447, 332, 'UK', {weight: B, color: C.uk}),
  txt(431, 347, 'US', {weight: B, color: C.us}),
  // panel 3
  txt(639, 206, 'Switz.', {weight: B, color: C.switzText}),
  txt(632, 232, 'Norway', {weight: B, color: C.norwayText}),
  txt(681, 257, 'US', {weight: B, color: C.us}),
  txt(694, 317, 'UK', {weight: B, color: C.uk}),
  txt(696, 335, 'Slovenia', {weight: B, color: C.sloveniaText}),
  // panel 4
  txt(917, 119, 'US', {weight: B, color: C.us}),
  txt(859, 163, 'Switz.', {weight: B, color: C.switzText}),
  txt(901, 216, 'Norway', {weight: B, color: C.norwayText}),
  txt(939, 273, 'UK', {weight: B, color: C.uk}),
  // panel 5
  txt(1154, 108, 'Switz.', {weight: B, color: C.switzText}),
  txt(1138, 216, 'Norway', {weight: B, color: C.norwayText}),
  txt(1180, 247, 'UK', {weight: B, color: C.uk}),
  // footer
  txt(2, 523, 'Sources: FT analysis of data from Eurostat EU-SILC survey, OECD and UK Family Resources Survey', {size: 11.5, color: '#4e4a47'}),
  txt(2, 537, '*Household incomes equivalised using modified OECD scale to be representative of a two-adult household', {size: 11.5, color: '#4e4a47'}),
  txt(2, 551, 'FT graphic: John Burn-Murdoch / @jburnmurdoch', {size: 11.5, color: '#4e4a47'}),
  txt(2, 564, '\u00a9 FT', {size: 11.5, color: '#4e4a47', italic: true})
];

const chart = echarts.init(document.getElementById('c'), null, {renderer: 'canvas'});
chart.setOption({
  backgroundColor: '#fff1e5',
  animation: false,
  textStyle: {fontFamily: FONT},
  grid, xAxis, yAxis, series, graphic
});
</script>
</body></html>
